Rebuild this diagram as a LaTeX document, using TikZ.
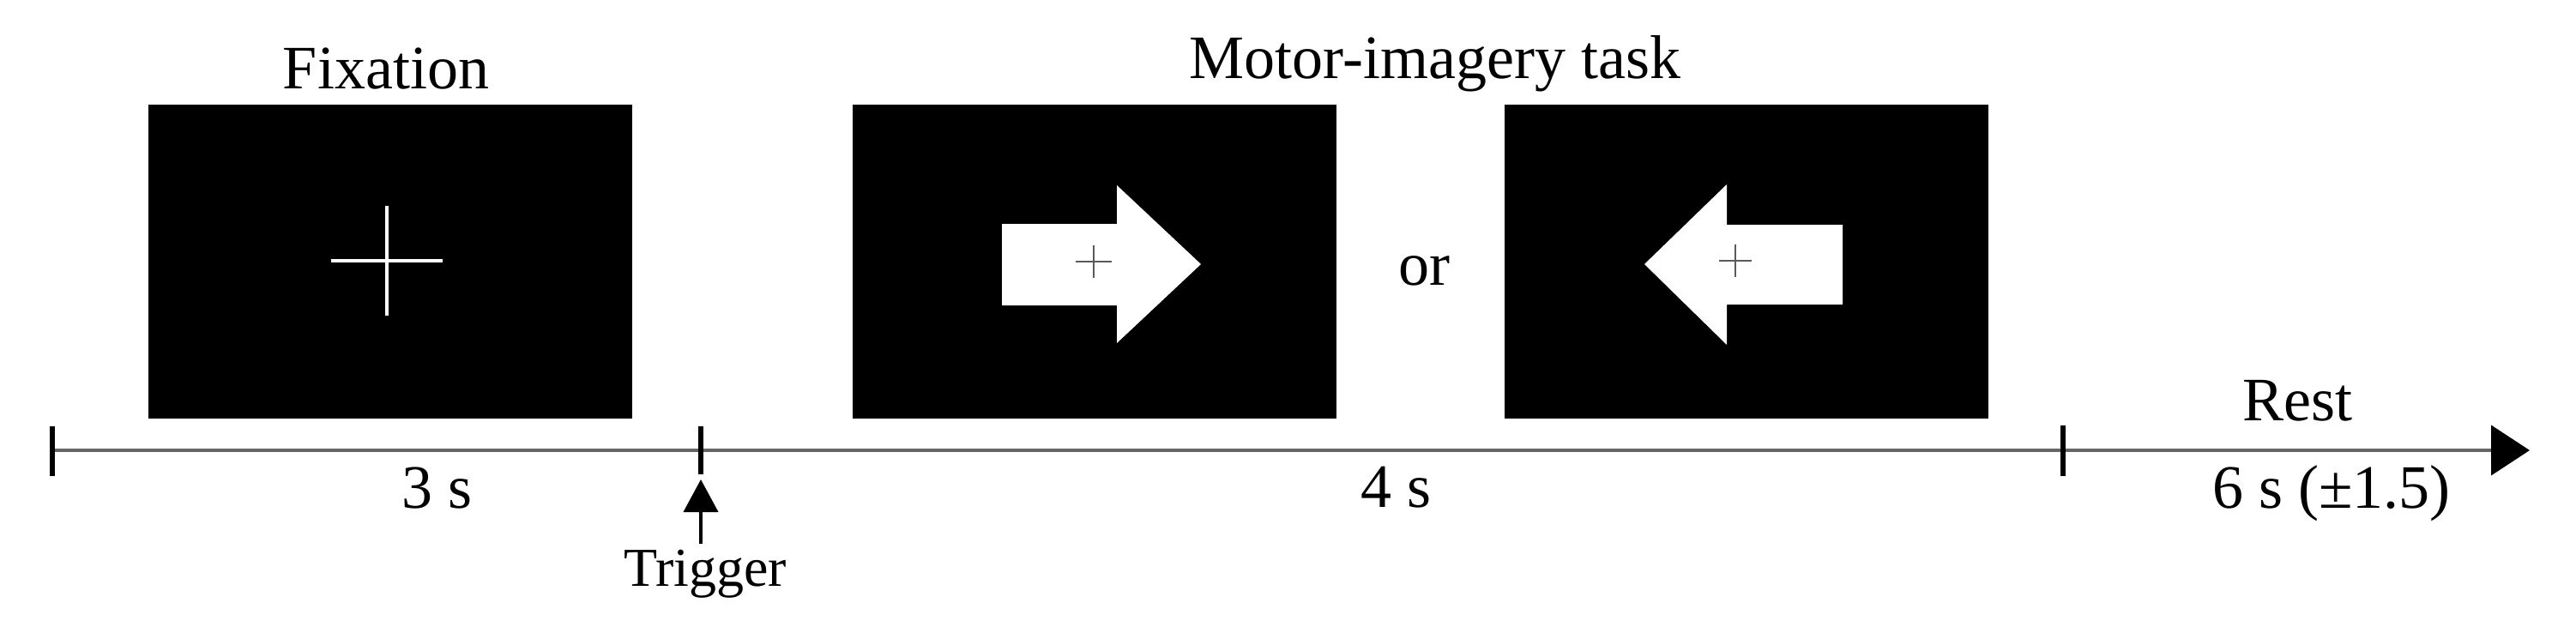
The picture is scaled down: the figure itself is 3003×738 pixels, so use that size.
\documentclass[tikz,border=0pt]{standalone}
\usepackage{fontspec}
\setmainfont{Liberation Serif}
\usetikzlibrary{arrows.meta}
\definecolor{axisgray}{HTML}{666666}
\definecolor{crossgray}{HTML}{5A5A5A}
\begin{document}
\begin{tikzpicture}[x=1pt,y=-1pt,
  screen/.style={fill=black, draw=none, minimum width=564pt, minimum height=366pt, inner sep=0pt, outer sep=0pt},
  lbl/.style={font=\fontsize{72}{86}\selectfont, anchor=base, inner sep=0pt},
  smalllbl/.style={lbl, font=\fontsize{64}{76}\selectfont},
  tickmark/.style={line width=6pt, black},
  axisline/.style={line width=4pt, draw=axisgray},
  fixcross/.style={draw=white, line width=3.5pt},
  smallcross/.style={draw=crossgray, line width=2.5pt},
  cue/.style={fill=white, draw=none},
]
\useasboundingbox (0,0) rectangle (3003,738);
\fill[white] (0,0) rectangle (3003,738);

% screens
\node[screen] (fix)   at (455,305) {};
\node[screen] (right) at (1276,305) {};
\node[screen] (left)  at (2036,305) {};

% fixation cross
\draw[fixcross] (386,304) -- (516,304);
\draw[fixcross] (451,240) -- (451,368);

% right arrow cue
\fill[cue] (1168,261) -- (1302,261) -- (1302,216) -- (1400,308) -- (1302,400) -- (1302,356) -- (1168,356) -- cycle;
\draw[smallcross] (1254,305) -- (1296,305);
\draw[smallcross] (1275,286) -- (1275,324);

% left arrow cue
\fill[cue] (2148,262) -- (2013,262) -- (2013,215) -- (1917,308) -- (2013,402) -- (2013,355) -- (2148,355) -- cycle;
\draw[smallcross] (2004,304) -- (2042,304);
\draw[smallcross] (2023,285) -- (2023,323);

% labels
\node[lbl] (fixlbl)   at (450,104) {Fixation};
\node[lbl] (motorlbl) at (1673,92) {Motor-imagery task};
\node[lbl] (orlbl)    at (1660,332) {or};
\node[lbl] (restlbl)  at (2678,490) {Rest};
\node[lbl] (d3)       at (510,592) {3 s};
\node[lbl] (d4)       at (1627,591) {4 s};
\node[lbl] (d6)       at (2718,592) {6 s (±1.5)};
\node[smalllbl] (trig) at (822,683) {Trigger};

% timeline
\coordinate (t0) at (61,525);
\coordinate (t1) at (817,525);
\coordinate (t2) at (2405,525);
\coordinate (tend) at (2949,525);
\draw[axisline, -{Triangle[length=45pt 0 0, width=58pt 0 0, color=black]}] (t0) -- (tend);
\draw[tickmark] (t0) ++(0,-28) -- ++(0,58);
\draw[tickmark] (t1) ++(0,-28) -- ++(0,56);
\draw[tickmark] (t2) ++(0,-29) -- ++(0,59);

% trigger arrow
\coordinate (trigtip) at (817,559);
\coordinate (trigtail) at (817,634);
\draw[line width=4pt, black, -{Triangle[length=38pt 0 0, width=40pt 0 0]}] (trigtail) -- (trigtip);
\end{tikzpicture}
\end{document}
